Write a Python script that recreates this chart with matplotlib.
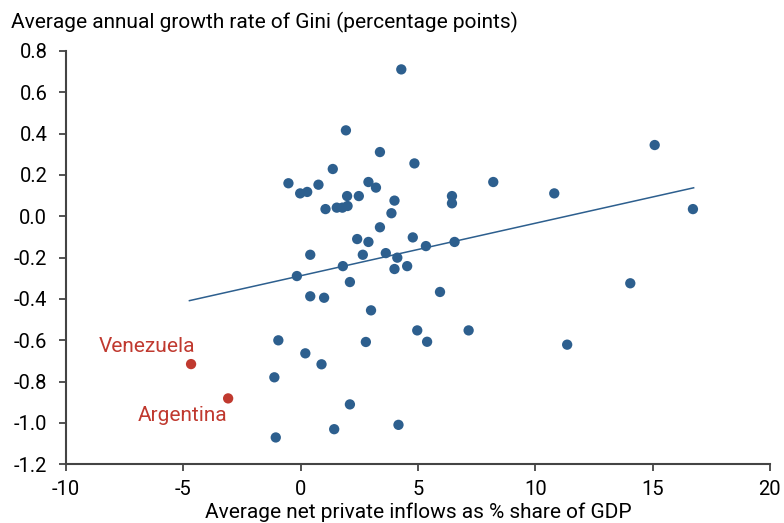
import matplotlib
matplotlib.use("Agg")
import matplotlib.pyplot as plt

# Data
x_vals = [4.29, 1.93, 3.38, 4.85, 1.37, -0.52, -0.02, 0.28, 0.76, 2.89, 3.21, 1.98, 2.48,
          1.06, 1.54, 1.78, 2.00, 4.00, 3.87, 6.45, 6.45, 3.38, 15.09, 8.21, 10.81, 16.72,
          4.78, 5.34, 6.56, 4.54, 5.94, 14.05, 4.97, 5.39, 7.16, 11.36, 2.41, 2.89, 0.41,
          2.65, 3.63, 4.12, 4.00, 1.80, -0.16, 2.10, 0.41, 1.00, 3.00, -0.95, 2.78, 0.20,
          0.89, -1.12, 2.10, 1.43, 4.17, -1.06]
y_vals = [0.711, 0.416, 0.311, 0.256, 0.229, 0.160, 0.111, 0.118, 0.153, 0.166, 0.139, 0.098, 0.098,
          0.035, 0.042, 0.042, 0.050, 0.076, 0.015, 0.098, 0.063, -0.053, 0.345, 0.166, 0.111, 0.035,
          -0.102, -0.144, -0.124, -0.241, -0.366, -0.324, -0.552, -0.607, -0.552, -0.621, -0.110, -0.124, -0.186,
          -0.186, -0.178, -0.200, -0.255, -0.241, -0.289, -0.318, -0.387, -0.394, -0.455, -0.600, -0.608, -0.663,
          -0.716, -0.779, -0.910, -1.030, -1.009, -1.070]

highlight_names = ["Venezuela", "Argentina"]
highlight_x = [-4.67, -3.09]
highlight_y = [-0.715, -0.881]

trend_x = [-4.74, 16.75]
trend_y = [-0.408, 0.138]

x_ticks = [-10, -5, 0, 5, 10, 15, 20]
y_ticks = [0.8, 0.6, 0.4, 0.2, 0.0, -0.2, -0.4, -0.6, -0.8, -1.0, -1.2]

blue = "#2d5f8e"
red = "#c0392f"
axis_col = "#444444"

plt.rcParams['font.family'] = ['Roboto', 'DejaVu Sans']

fig = plt.figure(figsize=(7.84, 5.23), dpi=100)
ax = fig.add_axes([0.0842, 0.1122, 0.8978, 0.7903])

ax.plot(trend_x, trend_y, color=blue, lw=1.1, zorder=2)
ax.scatter(x_vals, y_vals, s=55, color=blue, edgecolors='none', zorder=3)
ax.scatter(highlight_x, highlight_y, s=55, color=red, edgecolors='none', zorder=3)

# label offsets relative to the highlighted points
label_dx = [0.17, -0.04]
label_dy = [0.06, -0.108]
for name, hx, hy, dx, dy in zip(highlight_names, highlight_x, highlight_y, label_dx, label_dy):
    ax.text(hx + dx, hy + dy, name, color=red, fontsize=15, ha='right', va='baseline')

ax.set_xlim(-10, 20)
ax.set_ylim(-1.2, 0.8)
ax.set_xticks(x_ticks)
ax.set_xticklabels([str(t) for t in x_ticks])
ax.set_yticks(y_ticks)
ax.set_yticklabels([f"{t:.1f}" for t in y_ticks])

for s in ['top', 'right']:
    ax.spines[s].set_visible(False)
for s in ['left', 'bottom']:
    ax.spines[s].set_color(axis_col)
    ax.spines[s].set_linewidth(1.5)
ax.tick_params(axis='both', direction='out', length=5, width=1.3, color=axis_col,
               labelsize=14.5, labelcolor='black')
ax.tick_params(axis='y', pad=8.5)
ax.tick_params(axis='x', pad=6.5)

fig.text(11/784, 1 - 28/523, "Average annual growth rate of Gini (percentage points)",
         fontsize=15, ha='left', va='baseline')
fig.text(418.5/784, 1 - 518/523, "Average net private inflows as % share of GDP",
         fontsize=15, ha='center', va='baseline')

fig.savefig("out.png", dpi=100)
